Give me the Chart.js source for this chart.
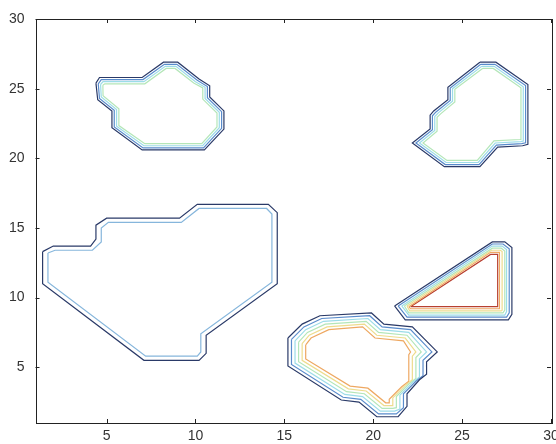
<!DOCTYPE html>
<html>
<head>
<meta charset="utf-8">
<script src="https://cdn.jsdelivr.net/npm/chart.js@4.4.1/dist/chart.umd.min.js"></script>
<style>
  html, body { margin: 0; padding: 0; background: #fff; }
  #wrap { width: 556px; height: 444px; }
</style>
</head>
<body>
<div id="wrap"><canvas id="c"></canvas></div>
<script>
// tick labels
var xTicks = [5, 10, 15, 20, 25, 30];
var yTicks = [5, 10, 15, 20, 25, 30];

// contour colours, outermost level first (jet-like)
var levelColors = ['#2a3a68', '#5a8ccc', '#9cdce8', '#b4e6b8', '#eedc8e', '#eea862', '#b84030'];
var paleBlue = '#86b6dc';

// top-left blob
var A1 = [[4.4,25.4],[4.6,25.8],[7.0,25.8],[8.2,26.9],[9.0,26.9],[10.2,25.7],[10.8,25.2],[10.8,24.4],[11.6,23.4],[11.6,22.1],[10.5,20.6],[7.0,20.6],[5.3,22.2],[5.3,23.4],[4.5,24.2],[4.4,25.4]];
var A2 = [[4.53,25.35],[4.7,25.65],[7.05,25.65],[8.25,26.75],[8.95,26.75],[10.1,25.6],[10.67,25.15],[10.67,24.35],[11.47,23.35],[11.47,22.15],[10.45,20.75],[7.05,20.75],[5.43,22.25],[5.43,23.45],[4.6,24.3],[4.53,25.35]];
var A3 = [[4.66,25.3],[4.8,25.5],[7.1,25.5],[8.3,26.6],[8.9,26.6],[10.0,25.5],[10.54,25.1],[10.54,24.3],[11.34,23.3],[11.34,22.2],[10.4,20.9],[7.1,20.9],[5.56,22.3],[5.56,23.5],[4.7,24.4],[4.66,25.3]];
var A4 = [[4.79,25.25],[4.9,25.35],[7.15,25.35],[8.35,26.45],[8.85,26.45],[9.9,25.4],[10.41,25.05],[10.41,24.25],[11.21,23.25],[11.21,22.25],[10.35,21.05],[7.15,21.05],[5.69,22.35],[5.69,23.55],[4.8,24.5],[4.79,25.25]];

// top-right blob
var B1 = [[26.0,26.9],[26.9,26.9],[28.7,25.3],[28.7,21.0],[28.4,20.9],[27.0,20.8],[26.0,19.4],[24.0,19.4],[22.2,21.1],[23.2,22.1],[23.2,23.1],[23.4,23.4],[24.2,24.2],[24.2,25.1],[26.0,26.9]];
var B2 = [[26.05,26.75],[26.85,26.75],[28.57,25.22],[28.57,21.12],[28.35,21.05],[26.93,20.95],[25.95,19.55],[24.05,19.55],[22.4,21.1],[23.33,22.05],[23.33,23.05],[23.53,23.33],[24.33,24.15],[24.33,25.05],[26.05,26.75]];
var B3 = [[26.1,26.6],[26.8,26.6],[28.44,25.14],[28.44,21.24],[28.3,21.2],[26.86,21.1],[25.9,19.7],[24.1,19.7],[22.6,21.1],[23.46,22.0],[23.46,23.0],[23.66,23.26],[24.46,24.1],[24.46,25.0],[26.1,26.6]];
var B4 = [[26.15,26.45],[26.75,26.45],[28.31,25.06],[28.31,21.36],[28.25,21.35],[26.79,21.25],[25.85,19.85],[24.15,19.85],[22.8,21.1],[23.59,21.95],[23.59,22.95],[23.79,23.19],[24.59,24.05],[24.59,24.95],[26.15,26.45]];

// big left blob
var C1 = [[1.4,13.3],[2.0,13.7],[4.1,13.7],[4.4,14.2],[4.4,15.2],[5.0,15.7],[9.1,15.7],[10.1,16.7],[14.1,16.7],[14.6,16.1],[14.6,11.0],[10.6,7.3],[10.6,6.0],[10.2,5.5],[7.1,5.5],[1.4,11.0],[1.4,13.3]];
var C2 = [[1.7,13.2],[2.1,13.4],[4.2,13.4],[4.7,14.0],[4.7,15.0],[5.1,15.4],[9.2,15.4],[10.2,16.4],[14.0,16.4],[14.3,16.0],[14.3,11.1],[10.3,7.4],[10.3,6.1],[10.1,5.8],[7.2,5.8],[1.7,11.1],[1.7,13.2]];

// bottom blob
var D1 = [[15.2,7.1],[16.0,8.1],[17.0,8.7],[19.9,8.9],[20.6,8.1],[22.2,7.9],[23.6,6.1],[23.0,5.4],[23.0,4.5],[22.6,4.1],[21.9,3.1],[21.9,2.2],[21.4,1.45],[20.2,1.45],[19.2,2.5],[18.2,2.65],[15.2,5.1],[15.2,7.1]];
var D2 = [[15.4,7.0],[16.1,7.9],[17.1,8.5],[19.8,8.7],[20.5,7.9],[22.1,7.7],[23.3,6.1],[22.8,5.5],[22.8,4.4],[22.4,4.0],[21.7,3.1],[21.7,2.1],[21.3,1.65],[20.3,1.65],[19.3,2.7],[18.3,2.85],[15.4,5.2],[15.4,7.0]];
var D3 = [[15.6,6.9],[16.2,7.7],[17.2,8.3],[19.7,8.5],[20.4,7.7],[22.0,7.5],[23.0,6.1],[22.6,5.6],[22.6,4.3],[22.2,3.9],[21.5,3.0],[21.5,2.0],[21.2,1.85],[20.4,1.85],[19.4,2.9],[18.4,3.05],[15.6,5.3],[15.6,6.9]];
var D4 = [[15.8,6.8],[16.3,7.5],[17.3,8.1],[19.6,8.3],[20.3,7.5],[21.9,7.3],[22.7,6.1],[22.4,5.7],[22.4,4.2],[22.0,3.8],[21.3,2.9],[21.3,2.1],[21.1,2.05],[20.5,2.05],[19.5,3.1],[18.5,3.25],[15.8,5.4],[15.8,6.8]];
var D5 = [[16.0,6.7],[16.4,7.3],[17.4,7.9],[19.5,8.1],[20.2,7.3],[21.8,7.1],[22.4,6.1],[22.2,5.8],[22.2,4.1],[21.8,3.7],[21.1,2.8],[21.1,2.25],[20.6,2.25],[19.6,3.3],[18.6,3.45],[16.0,5.5],[16.0,6.7]];
var D6 = [[16.2,6.6],[16.5,7.1],[17.5,7.7],[19.4,7.9],[20.1,7.1],[21.7,6.9],[22.1,6.1],[22.0,5.9],[22.0,4.0],[21.6,3.6],[20.9,2.7],[20.9,2.45],[20.7,2.45],[19.7,3.5],[18.7,3.65],[16.2,5.6],[16.2,6.6]];

// triangle
var E1 = [[21.2,9.4],[26.7,14.0],[27.4,14.0],[27.8,13.6],[27.8,8.8],[27.6,8.4],[21.8,8.4],[21.2,9.4]];
var E2 = [[21.4,9.4],[26.7,13.85],[27.3,13.85],[27.65,13.5],[27.65,8.9],[27.5,8.6],[21.9,8.6],[21.4,9.4]];
var E3 = [[21.6,9.4],[26.7,13.7],[27.25,13.7],[27.5,13.45],[27.5,9.0],[27.4,8.75],[22.0,8.75],[21.6,9.4]];
var E4 = [[21.75,9.4],[26.7,13.55],[27.2,13.55],[27.4,13.35],[27.4,9.1],[27.3,8.9],[22.0,8.9],[21.75,9.4]];
var E5 = [[21.9,9.4],[26.65,13.4],[27.15,13.4],[27.25,13.3],[27.25,9.1],[27.2,9.05],[22.05,9.05],[21.9,9.4]];
var E6 = [[22.0,9.35],[26.6,13.25],[27.1,13.25],[27.1,9.2],[22.1,9.2],[22.0,9.35]];
var E7 = [[22.1,9.35],[26.6,13.1],[27.0,13.1],[27.0,9.35],[22.1,9.35]];

var contours = [
    [A1, 0], [A2, 1], [A3, 2], [A4, 3],
    [B1, 0], [B2, 1], [B3, 2], [B4, 3],
    [C1, 0], [C2, -1],
    [D1, 0], [D2, 1], [D3, 2], [D4, 3], [D5, 4], [D6, 5],
    [E1, 0], [E2, 1], [E3, 2], [E4, 3], [E5, 4], [E6, 5], [E7, 6]
];

var datasets = contours.map(function (c) {
    return {
        data: c[0].map(function (p) { return {x: p[0], y: p[1]}; }),
        showLine: true,
        fill: false,
        tension: 0,
        pointRadius: 0,
        borderWidth: 1.2,
        borderColor: c[1] < 0 ? paleBlue : levelColors[c[1]]
    };
});

// box round the axes with inward tick marks, matlab style
var boxPlugin = {
    id: 'box',
    afterDraw: function (chart) {
        var ctx = chart.ctx, a = chart.chartArea;
        var sx = chart.scales.x, sy = chart.scales.y;
        ctx.save();
        ctx.strokeStyle = '#222';
        ctx.lineWidth = 1;
        ctx.strokeRect(Math.round(a.left) + 0.5, Math.round(a.top) + 0.5,
                       Math.round(a.right - a.left), Math.round(a.bottom - a.top));
        ctx.beginPath();
        xTicks.forEach(function (v) {
            var px = Math.round(sx.getPixelForValue(v)) + 0.5;
            ctx.moveTo(px, a.bottom); ctx.lineTo(px, a.bottom - 4);
            ctx.moveTo(px, a.top); ctx.lineTo(px, a.top + 4);
        });
        yTicks.forEach(function (v) {
            var py = Math.round(sy.getPixelForValue(v)) + 0.5;
            ctx.moveTo(a.left, py); ctx.lineTo(a.left + 4, py);
            ctx.moveTo(a.right, py); ctx.lineTo(a.right - 4, py);
        });
        ctx.stroke();
        ctx.restore();
    }
};

var tickFont = {family: 'Liberation Sans, Arial, sans-serif', size: 14};

new Chart(document.getElementById('c'), {
    type: 'scatter',
    data: {datasets: datasets},
    options: {
        responsive: true,
        maintainAspectRatio: false,
        animation: false,
        layout: {padding: {top: 19, right: 5, left: 0, bottom: 0}},
        plugins: {legend: {display: false}, tooltip: {enabled: false}},
        scales: {
            x: {
                type: 'linear', min: 1, max: 30,
                grid: {display: false},
                border: {display: false},
                afterBuildTicks: function (s) { s.ticks = xTicks.map(function (v) { return {value: v}; }); },
                afterFit: function (s) { s.height = 21; s.paddingLeft = 0; s.paddingRight = 0; },
                ticks: {font: tickFont, color: '#333', padding: -3, maxRotation: 0, autoSkip: false}
            },
            y: {
                type: 'linear', min: 1, max: 30,
                grid: {display: false},
                border: {display: false},
                afterBuildTicks: function (s) { s.ticks = yTicks.map(function (v) { return {value: v}; }); },
                afterFit: function (s) { s.width = 35.5; s.paddingTop = 0; s.paddingBottom = 0; },
                ticks: {font: tickFont, color: '#333', padding: 3, autoSkip: false}
            }
        }
    },
    plugins: [boxPlugin]
});
</script>
</body>
</html>
